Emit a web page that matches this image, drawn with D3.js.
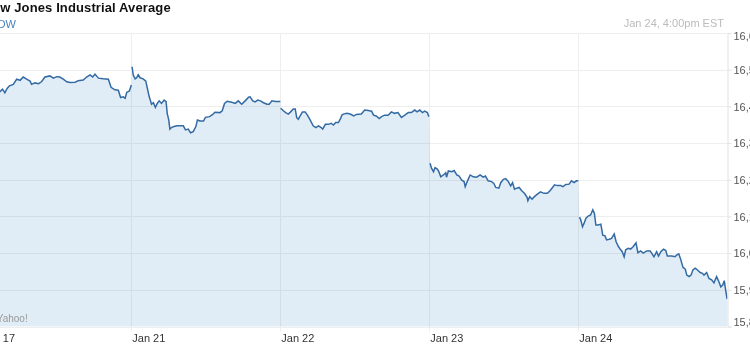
<!DOCTYPE html>
<html>
<head>
<meta charset="utf-8">
<script src="https://cdn.jsdelivr.net/npm/d3@7/dist/d3.min.js"></script>
<style>
  html, body { margin: 0; padding: 0; background: #fff; overflow: hidden; }
  svg { display: block; font-family: "Liberation Sans", Arial, Helvetica, sans-serif; }
</style>
</head>
<body>
<svg id="chart" width="750" height="345"></svg>
<script>
// ---- Data (minutes since 9:30 open, index value) ----
const dayLabels = ["Jan 17", "Jan 21", "Jan 22", "Jan 23", "Jan 24"];
const yTicks = [15800, 15900, 16000, 16100, 16200, 16300, 16400, 16500, 16600];
const titleText = "Dow Jones Industrial Average";
const symbolText = "DOW";
const stampText = "Jan 24, 4:00pm EST";
const sourceText = "Yahoo!";

const jan17 = [[38,16442],[46,16440],[53,16447],[59,16437],[65,16449],[71,16456],[81,16460],[90,16474],[99,16471],[107,16480],[116,16474],[125,16469],[129,16460],[138,16464],[147,16462],[155,16467],[164,16480],[177,16483],[186,16477],[195,16481],[203,16480],[212,16474],[221,16467],[230,16465],[243,16466],[251,16470],[264,16472],[273,16480],[282,16486],[289,16480],[295,16488],[304,16477],[317,16475],[330,16474],[337,16452],[347,16445],[356,16444],[362,16424],[369,16426],[374,16422],[378,16438],[385,16442],[390,16458]];
const jan21 = [[2,16508],[5,16486],[10,16475],[14,16478],[18,16486],[23,16478],[31,16475],[38,16469],[42,16449],[47,16426],[53,16406],[58,16410],[63,16397],[68,16408],[73,16415],[79,16408],[86,16417],[91,16413],[94,16381],[98,16363],[101,16338],[106,16343],[112,16345],[119,16347],[127,16347],[136,16347],[142,16336],[149,16338],[155,16328],[162,16331],[169,16345],[173,16363],[180,16360],[189,16360],[194,16370],[205,16372],[213,16378],[219,16384],[232,16383],[238,16388],[244,16408],[251,16414],[263,16411],[272,16408],[280,16415],[289,16406],[298,16415],[307,16425],[311,16426],[318,16415],[324,16412],[331,16417],[338,16415],[346,16410],[355,16406],[361,16406],[368,16415],[377,16413],[388,16413],[390,16414]];
const jan22 = [[1,16395],[8,16388],[14,16383],[21,16379],[27,16385],[34,16393],[39,16393],[43,16369],[47,16365],[52,16374],[58,16385],[65,16385],[71,16376],[78,16363],[86,16347],[93,16342],[100,16347],[106,16343],[111,16338],[118,16351],[126,16351],[133,16354],[139,16349],[145,16356],[152,16356],[158,16367],[161,16376],[165,16379],[174,16381],[183,16379],[192,16374],[199,16378],[212,16379],[221,16390],[230,16389],[239,16387],[244,16376],[251,16374],[259,16367],[265,16372],[273,16376],[282,16376],[291,16385],[299,16381],[308,16383],[317,16370],[326,16376],[335,16383],[343,16383],[352,16390],[358,16385],[365,16390],[372,16383],[378,16387],[385,16383],[388,16374],[390,16373]];
const jan23 = [[2,16245],[6,16231],[11,16222],[15,16233],[21,16229],[25,16222],[30,16208],[37,16213],[43,16219],[45,16207],[50,16224],[59,16222],[65,16225],[72,16213],[78,16210],[85,16199],[91,16195],[94,16181],[100,16197],[107,16213],[115,16208],[124,16207],[133,16213],[141,16207],[147,16210],[154,16197],[163,16195],[169,16190],[174,16179],[182,16177],[187,16192],[194,16201],[200,16203],[207,16195],[213,16183],[218,16192],[223,16174],[229,16177],[235,16179],[242,16170],[249,16163],[256,16152],[258,16143],[263,16154],[269,16147],[275,16154],[282,16160],[291,16167],[300,16163],[309,16163],[316,16170],[322,16178],[328,16186],[335,16184],[344,16184],[350,16181],[357,16187],[366,16188],[372,16197],[379,16192],[385,16197],[390,16197]];
const jan24 = [[3,16098],[6,16092],[11,16072],[15,16081],[20,16095],[26,16101],[32,16104],[38,16118],[42,16109],[46,16077],[52,16077],[59,16079],[64,16049],[70,16047],[74,16036],[81,16038],[87,16040],[94,16052],[99,16031],[105,16018],[111,16009],[115,16004],[120,15990],[124,16009],[131,16013],[137,16011],[144,16018],[151,16028],[156,16001],[163,16006],[170,16000],[179,16006],[188,16006],[192,16000],[198,15990],[205,16004],[210,15992],[216,16004],[223,16011],[229,16007],[233,15992],[245,15992],[253,15990],[258,15995],[263,15998],[268,15983],[274,15961],[280,15956],[284,15940],[290,15936],[295,15940],[300,15954],[306,15959],[312,15954],[319,15947],[325,15945],[329,15940],[336,15947],[342,15931],[349,15927],[355,15919],[362,15936],[368,15922],[373,15908],[378,15913],[382,15925],[385,15904],[389,15878],[390,15879]];

const days = [jan17, jan21, jan22, jan23, jan24];
const sessionMinutes = 390;

// ---- Layout ----
const svg = d3.select("#chart");
const plotLeft = -17.7, plotRight = 727.3, plotTop = 33, plotBottom = 326.5;

const x = d3.scaleLinear().domain([0, days.length]).range([plotLeft, plotRight]);
const y = d3.scaleLinear().domain([15800, 16600]).range([plotBottom, plotTop]);

const series = days.map((d, i) => d.map(([m, v]) => ({ t: i + m / sessionMinutes, v })));
const all = series.flat();

// Area
const area = d3.area().x(d => x(d.t)).y0(plotBottom).y1(d => y(d.v));
svg.append("path").datum(all)
  .attr("d", area)
  .attr("fill", "#e1edf6");

// Horizontal gridlines
const grid = svg.append("g").style("mix-blend-mode", "multiply");
grid.selectAll("line.h").data(yTicks).join("line")
  .attr("x1", plotLeft).attr("x2", 727)
  .attr("y1", d => Math.round(y(d)) + 0.5).attr("y2", d => Math.round(y(d)) + 0.5)
  .attr("stroke", "#eeeeee").attr("stroke-width", 1);
// Vertical day gridlines
grid.selectAll("line.v").data(d3.range(days.length)).join("line")
  .attr("x1", d => Math.round(x(d)) + 0.5).attr("x2", d => Math.round(x(d)) + 0.5)
  .attr("y1", plotTop).attr("y2", plotBottom + 5)
  .attr("stroke", "#eeeeee").attr("stroke-width", 1);

// Line (broken per trading day)
const line = d3.line().x(d => x(d.t)).y(d => y(d.v));
svg.append("g").selectAll("path").data(series).join("path")
  .attr("d", line)
  .attr("fill", "none")
  .attr("stroke", "#336aa3")
  .attr("stroke-width", 1.5)
  .attr("stroke-linejoin", "miter");

// Right axis
const yAxis = d3.axisRight(y).tickValues(yTicks).tickFormat(d3.format(",")).tickSize(4).tickPadding(2);
const gy = svg.append("g").attr("transform", "translate(727.5,0)").call(yAxis);
gy.select(".domain").attr("stroke", "#e2e2e2");
gy.selectAll(".tick line").attr("stroke", "#e2e2e2");
gy.selectAll(".tick text")
  .attr("fill", "#555").style("font-size", "11px")
  .attr("dy", d => d === 16600 ? "0.62em" : d === 15800 ? "-0.08em" : "0.33em");

// Bottom axis labels
const xAxis = d3.axisBottom(x).tickValues(d3.range(days.length)).tickFormat(i => dayLabels[i]).tickSize(0);
const gx = svg.append("g").attr("transform", `translate(0,${plotBottom})`).call(xAxis);
gx.select(".domain").remove();
gx.selectAll(".tick text")
  .attr("text-anchor", "start").attr("x", d => d === 0 ? -0.8 : 0.5).attr("y", 15.5).attr("dy", 0)
  .attr("fill", "#333").style("font-size", "11px");

// Titles
svg.append("text").attr("x", -17.3).attr("y", 12)
  .attr("font-weight", "bold").attr("font-size", 13).attr("fill", "#111")
  .attr("letter-spacing", 0.12)
  .text(titleText);
svg.append("text").attr("x", -11).attr("y", 27.5)
  .attr("font-size", 11).attr("fill", "#4a80bf")
  .text(symbolText);
svg.append("text").attr("x", 724).attr("y", 27.3).attr("text-anchor", "end")
  .attr("font-size", 11).attr("fill", "#bbbbbb")
  .text(stampText);
svg.append("text").attr("x", -3.3).attr("y", 321.5)
  .attr("font-size", 10).attr("fill", "#999")
  .text(sourceText);
</script>
</body>
</html>
